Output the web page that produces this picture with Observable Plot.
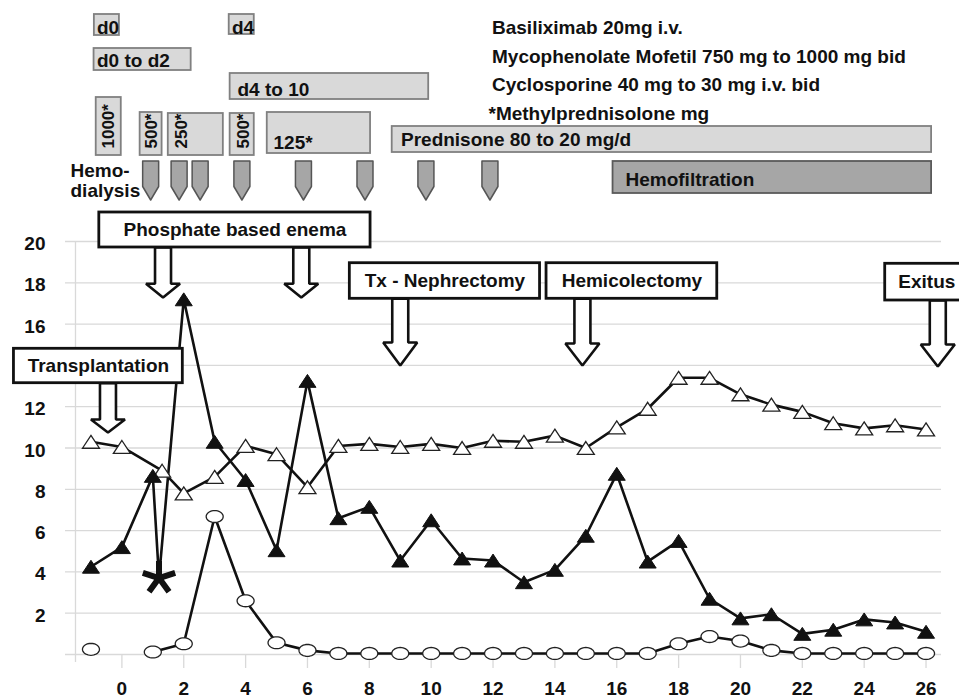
<!DOCTYPE html>
<html>
<head>
<meta charset="utf-8">
<script src="https://cdn.jsdelivr.net/npm/d3@7"></script>
<script src="https://cdn.jsdelivr.net/npm/@observablehq/plot@0.6"></script>
<style>
  html, body { margin: 0; padding: 0; background: #fff; }
  #chart svg { display: block; }
</style>
</head>
<body>
<div id="chart"></div>
<script>
// ================= DATA =================
// Open triangles
const openTriDays   = [-1, 0, 1.3, 2, 3, 4, 5, 6, 7, 8, 9, 10, 11, 12, 13, 14, 15, 16, 17, 18, 19, 20, 21, 22, 23, 24, 25, 26];
const openTriValues = [10.3, 10.05, 8.9, 7.8, 8.6, 10.1, 9.7, 8.1, 10.1, 10.2, 10.05, 10.2, 10.0, 10.35, 10.3, 10.6, 10.0, 11.0, 11.9, 13.4, 13.4, 12.6, 12.1, 11.75, 11.2, 10.95, 11.1, 10.9];
// Filled triangles (the point at day 1.2 is drawn as an asterisk)
const filledTriDays   = [-1, 0, 1, 1.2, 2, 3, 4, 5, 6, 7, 8, 9, 10, 11, 12, 13, 14, 15, 16, 17, 18, 19, 20, 21, 22, 23, 24, 25, 26];
const filledTriValues = [4.25, 5.2, 8.65, 3.7, 17.2, 10.3, 8.45, 5.05, 13.25, 6.6, 7.15, 4.55, 6.5, 4.65, 4.55, 3.5, 4.1, 5.75, 8.75, 4.5, 5.5, 2.7, 1.75, 1.95, 1.0, 1.2, 1.7, 1.55, 1.1];
const asteriskDay = 1.2;
// Open circles (no value on day 0)
const circleDays   = [-1, 0, 1, 2, 3, 4, 5, 6, 7, 8, 9, 10, 11, 12, 13, 14, 15, 16, 17, 18, 19, 20, 21, 22, 23, 24, 25, 26];
const circleValues = [0.25, null, 0.12, 0.52, 6.68, 2.6, 0.57, 0.2, 0.05, 0.05, 0.05, 0.05, 0.05, 0.05, 0.05, 0.05, 0.05, 0.05, 0.05, 0.52, 0.87, 0.65, 0.2, 0.05, 0.05, 0.05, 0.05, 0.05];

const xTicks = [0, 2, 4, 6, 8, 10, 12, 14, 16, 18, 20, 22, 24, 26];
const yGrid = [0, 2, 4, 6, 8, 10, 12, 14, 16, 18, 20];
// "14" is hidden behind the Transplantation box in the reference
const yTickLabels = [2, 4, 6, 8, 10, 12, 16, 18, 20];

// Treatment timeline (days)
const boxLabels = ["d0", "d4", "d0 to d2", "d4 to 10", "1000*", "500*", "250*", "500*", "125*", "Prednisone 80 to 20 mg/d", "Hemofiltration"];
const boxStart  = [-0.89, 3.47, -0.9, 3.5, -0.83, 0.59, 1.5, 3.5, 4.7, 8.74, 15.88];
const boxEnd    = [-0.08, 4.28, 2.24, 9.92, -0.02, 1.3, 3.28, 4.28, 8.04, 26.18, 26.18];
const hemodialysisDays = [0.93, 1.85, 2.53, 3.88, 5.87, 7.86, 9.83, 11.9];
const hemodialysisLabel = "Hemo-\ndialysis";
const drugLegend = ["Basiliximab 20mg i.v.", "Mycophenolate Mofetil 750 mg to 1000 mg bid", "Cyclosporine 40 mg to 30 mg i.v. bid", "*Methylprednisolone mg"];

// Events
const eventLabels = ["Transplantation", "Phosphate based enema", "Tx - Nephrectomy", "Hemicolectomy", "Exitus"];
const eventStart  = [-3.49, -0.73, 7.37, 13.73, 24.68];
const eventEnd    = [1.97, 8.04, 13.52, 19.25, 27.37];
const eventArrowDays = [[-0.45], [1.33, 5.8], [9.0], [14.89], [26.38]];

// ================= LAYOUT (pixels) =================
const W = 959, H = 698, ML = 75, MR = 18, MT = 241, MB = 44;
const X0 = -1.5, X1 = 26.5;
const kx = (W - ML - MR) / (X1 - X0);
const ky = (H - MB - MT) / 20;
const xv = px => X0 + (px - ML) / kx;      // pixel -> day
const yv = px => (H - MB - px) / ky;       // pixel -> value
const FONT = "'Liberation Sans', Arial, Helvetica, sans-serif";
const FS = 19;

const boxTopPx    = [14, 14, 48, 73, 97, 112, 113, 113, 112, 126, 161];
const boxBottomPx = [35, 34, 70, 99, 155, 155, 155, 155, 153, 152, 193];
const boxDark     = [false, false, false, false, false, false, false, false, false, false, true];
const boxTextVertical = [false, false, false, false, true, true, true, true, false, false, false];
const boxTextXPx  = [96.5, 231.5, 96.5, 237, 108.5, 151.5, 181.5, 243, 273, 400.5, 625];
const boxTextYPx  = [33, 33, 66, 95, 148, 148, 148, 148, 148, 145, 185];

const legendXPx = [491.5, 491.5, 491.5, 488];
const legendYPx = [33.3, 62.5, 90.7, 119];

const hdTop = 160.5, hdShoulder = 186, hdTip = 199.5, hdHalf = 8;
const hdLabelCenterPx = 180;
const eventTopPx    = [348.3, 212, 262.7, 262.7, 263.3];
const eventBottomPx = [382.7, 247, 298.3, 298.3, 300];
const eventHeadPx   = [419, 283.3, 342, 343, 344];
const eventTipPx    = [432, 297, 365, 365, 366];
const shaftHalf = 8, headHalf = 17;

// ================= RECORDS =================
const openTri = openTriDays.map((d, i) => ({day: d, value: openTriValues[i]}));
const filledTri = filledTriDays.map((d, i) => ({day: d, value: filledTriValues[i]}));
const circles = circleDays.map((d, i) => ({day: d, value: circleValues[i]}));

const boxes = boxLabels.map((label, i) => ({
  label, x1: boxStart[i], x2: boxEnd[i], y1: yv(boxBottomPx[i]), y2: yv(boxTopPx[i]),
  dark: boxDark[i], vertical: boxTextVertical[i],
  tx: xv(boxTextXPx[i]),
  ty: boxTextVertical[i] ? yv(boxTextYPx[i]) : yv(boxTextYPx[i] - 0.32 * FS)
}));

const events = eventLabels.map((label, i) => ({
  label, x1: eventStart[i], x2: eventEnd[i], y1: yv(eventBottomPx[i]), y2: yv(eventTopPx[i]),
  cx: (eventStart[i] + eventEnd[i]) / 2, cy: yv((eventTopPx[i] + eventBottomPx[i]) / 2)
}));

const arrowPts = [];
eventArrowDays.forEach((list, e) => {
  list.forEach((d, j) => {
    const id = e + "-" + j;
    const s = shaftHalf / kx, h = headHalf / kx;
    const top = yv(eventBottomPx[e]), head = yv(eventHeadPx[e]), tip = yv(eventTipPx[e]);
    [[d - s, top], [d - s, head], [d - h, head], [d, tip], [d + h, head], [d + s, head], [d + s, top], [d - s, top]]
      .forEach(([x, y]) => arrowPts.push({id, x, y}));
  });
});

const hdPts = [];
hemodialysisDays.forEach((d, i) => {
  const s = hdHalf / kx;
  [[d - s, yv(hdTop)], [d - s, yv(hdShoulder)], [d, yv(hdTip)], [d + s, yv(hdShoulder)], [d + s, yv(hdTop)], [d - s, yv(hdTop)]]
    .forEach(([x, y]) => hdPts.push({id: i, x, y}));
});

const legend = drugLegend.map((t, i) => ({t, x: xv(legendXPx[i]), y: yv(legendYPx[i] - 0.32 * FS)}));

// ================= SYMBOLS =================
const triangleSym = {draw(ctx, size) {
  const r = Math.sqrt(size / Math.PI), w = r, h = r * 0.76;
  ctx.moveTo(0, -h); ctx.lineTo(w, h); ctx.lineTo(-w, h); ctx.closePath();
}};
const ellipseSym = {draw(ctx, size) {
  const r = Math.sqrt(size / Math.PI), rx = r, ry = r * 0.7, n = 36;
  for (let i = 0; i < n; i++) {
    const a = 2 * Math.PI * i / n, px = rx * Math.cos(a), py = ry * Math.sin(a);
    if (i) ctx.lineTo(px, py); else ctx.moveTo(px, py);
  }
  ctx.closePath();
}};
const starSym = {draw(ctx, size) {
  const r = Math.sqrt(size / Math.PI);
  for (let k = 0; k < 5; k++) {
    const a = -Math.PI / 2 + k * 2 * Math.PI / 5;
    ctx.moveTo(0, 0); ctx.lineTo(r * Math.cos(a), r * Math.sin(a));
  }
}};

// ================= CHART =================
const chart = Plot.plot({
  width: W, height: H,
  marginLeft: ML, marginRight: MR, marginTop: MT, marginBottom: MB,
  style: {fontFamily: FONT, fontSize: FS + "px", background: "#fff", overflow: "visible"},
  x: {domain: [X0, X1], range: [ML, W - MR]},
  y: {domain: [0, 20], range: [H - MB, MT]},
  marks: [
    // grid
    Plot.ruleY(yGrid, {x1: xv(65), x2: X1, stroke: "#d9d9d9", strokeWidth: 1.3}),
    Plot.ruleX([X0], {y1: yv(662), y2: 20, stroke: "#d9d9d9", strokeWidth: 1.3}),
    Plot.ruleX(xTicks, {y1: 0, y2: yv(668), stroke: "#d9d9d9", strokeWidth: 1.3}),
    Plot.axisY({ticks: yTickLabels, tickSize: 0, tickPadding: 30, fontSize: FS, fontWeight: "bold", fill: "#111", dy: 2.5, label: null}),
    Plot.axisX({ticks: xTicks, tickSize: 0, tickPadding: 26.5, fontSize: FS, fontWeight: "bold", fill: "#111", label: null}),
    // series lines
    Plot.line(openTri, {x: "day", y: "value", stroke: "#111", strokeWidth: 2.6}),
    Plot.line(filledTri, {x: "day", y: "value", stroke: "#111", strokeWidth: 2.6}),
    Plot.line(circles, {x: "day", y: "value", stroke: "#111", strokeWidth: 2.6}),
    // markers
    Plot.dot(openTri, {x: "day", y: "value", symbol: triangleSym, r: 8.5, fill: "#fff", stroke: "#222", strokeWidth: 1.3}),
    Plot.dot(filledTri.filter(d => d.day !== asteriskDay), {x: "day", y: "value", symbol: triangleSym, r: 8.5, fill: "#111", stroke: "#111", strokeWidth: 1}),
    Plot.dot(filledTri.filter(d => d.day === asteriskDay), {x: "day", y: "value", symbol: starSym, r: 17, fill: "none", stroke: "#111", strokeWidth: 6}),
    Plot.dot(circles.filter(d => d.value != null), {x: "day", y: "value", symbol: ellipseSym, r: 8.5, fill: "#fff", stroke: "#222", strokeWidth: 1.3}),
    // event arrows and boxes
    Plot.line(arrowPts, {x: "x", y: "y", z: "id", fill: "#fff", stroke: "#111", strokeWidth: 2.6, strokeLinejoin: "miter"}),
    Plot.rect(events, {x1: "x1", x2: "x2", y1: "y1", y2: "y2", fill: "#fff", stroke: "#111", strokeWidth: 2.8}),
    Plot.text(events, {x: "cx", y: "cy", text: "label", fontSize: FS, fontWeight: "bold", fill: "#111", textAnchor: "middle", lineAnchor: "middle"}),
    // treatment boxes
    Plot.rect(boxes, {x1: "x1", x2: "x2", y1: "y1", y2: "y2", fill: d => d.dark ? "#a6a6a6" : "#d9d9d9", stroke: d => d.dark ? "#5a5a5a" : "#808080", strokeWidth: 1.8}),
    Plot.text(boxes.filter(d => !d.vertical), {x: "tx", y: "ty", text: "label", fontSize: FS, fontWeight: "bold", fill: "#111", textAnchor: "start", lineAnchor: "middle"}),
    Plot.text(boxes.filter(d => d.vertical), {x: "tx", y: "ty", text: "label", fontSize: 17, fontWeight: "bold", fill: "#111", textAnchor: "start", lineAnchor: "middle", rotate: -90}),
    // hemodialysis markers
    Plot.line(hdPts, {x: "x", y: "y", z: "id", fill: "#a6a6a6", stroke: "#555", strokeWidth: 1.5}),
    Plot.text([hemodialysisLabel], {x: xv(70), y: yv(hdLabelCenterPx), text: d => d, fontSize: FS, fontWeight: "bold", fill: "#111", textAnchor: "start", lineAnchor: "middle", lineHeight: 1.05}),
    // drug legend
    Plot.text(legend, {x: "x", y: "y", text: "t", fontSize: FS, fontWeight: "bold", fill: "#111", textAnchor: "start", lineAnchor: "middle"})
  ]
});
document.getElementById("chart").appendChild(chart);
</script>
</body>
</html>
